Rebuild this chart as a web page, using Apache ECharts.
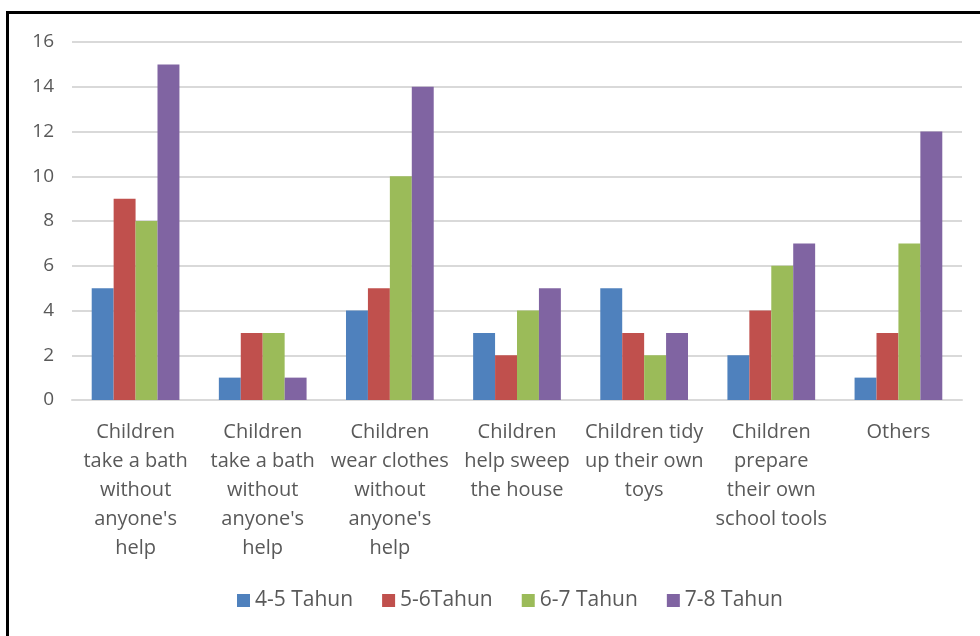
<!DOCTYPE html>
<html>
<head>
<meta charset="utf-8">
<script src="https://cdn.jsdelivr.net/npm/echarts@6/dist/echarts.min.js"></script>
<style>
  html, body { margin: 0; padding: 0; background: #fff; }
  #chart { width: 980px; height: 636px; }
</style>
</head>
<body>
<div id="chart"></div>
<script>
// Activity categories (line breaks as shown under each group)
const categories = [
  "Children\ntake a bath\nwithout\nanyone's\nhelp",
  "Children\ntake a bath\nwithout\nanyone's\nhelp",
  "Children\nwear clothes\nwithout\nanyone's\nhelp",
  "Children\nhelp sweep\nthe house",
  "Children tidy\nup their own\ntoys",
  "Children\nprepare\ntheir own\nschool tools",
  "Others"
];

const seriesNames = ["4-5 Tahun", "5-6Tahun", "6-7 Tahun", "7-8 Tahun"];
const age45 = [5, 1, 4, 3, 5, 2, 1];
const age56 = [9, 3, 5, 2, 3, 4, 3];
const age67 = [8, 3, 10, 4, 2, 6, 7];
const age78 = [15, 1, 14, 5, 3, 7, 12];
const yTicks = { min: 0, max: 16, interval: 2 };

const colors = ["#4F81BD", "#C0504D", "#9BBB59", "#8064A2"];
const values = [age45, age56, age67, age78];
const fontFamily = "'Open Sans', 'Noto Sans', sans-serif";

const chart = echarts.init(document.getElementById("chart"), null, { renderer: "canvas" });

chart.setOption({
  backgroundColor: "#ffffff",
  animation: false,
  textStyle: { fontFamily: fontFamily },
  grid: { left: 72, right: 18, top: 42, bottom: 236, containLabel: false },
  legend: {
    bottom: 20,
    left: 232,
    itemWidth: 13,
    itemHeight: 13,
    itemGap: 29,
    icon: "rect",
    textStyle: { fontSize: 21, color: "#595959", fontFamily: fontFamily },
    data: seriesNames
  },
  xAxis: {
    type: "category",
    data: categories,
    axisTick: { show: false },
    axisLine: { lineStyle: { color: "#d9d9d9", width: 2 } },
    axisLabel: {
      interval: 0,
      margin: 18,
      fontSize: 20,
      lineHeight: 29,
      color: "#595959",
      fontFamily: fontFamily,
      align: "center",
      verticalAlign: "top"
    }
  },
  yAxis: {
    type: "value",
    min: yTicks.min,
    max: yTicks.max,
    interval: yTicks.interval,
    axisLine: { show: false },
    axisTick: { show: false },
    axisLabel: { fontSize: 19, color: "#595959", margin: 18, fontFamily: fontFamily },
    splitLine: { lineStyle: { color: "#d9d9d9", width: 2 } }
  },
  series: seriesNames.map((name, i) => ({
    name: name,
    type: "bar",
    data: values[i],
    barGap: "0%",
    barCategoryGap: "31%",
    itemStyle: { color: colors[i] }
  })),
  graphic: [
    { type: "line", shape: { x1: 7, y1: 12.5, x2: 980, y2: 12.5 }, style: { stroke: "#000", lineWidth: 3 } },
    { type: "line", shape: { x1: 7.5, y1: 11, x2: 7.5, y2: 636 }, style: { stroke: "#000", lineWidth: 3 } }
  ]
});
</script>
</body>
</html>
